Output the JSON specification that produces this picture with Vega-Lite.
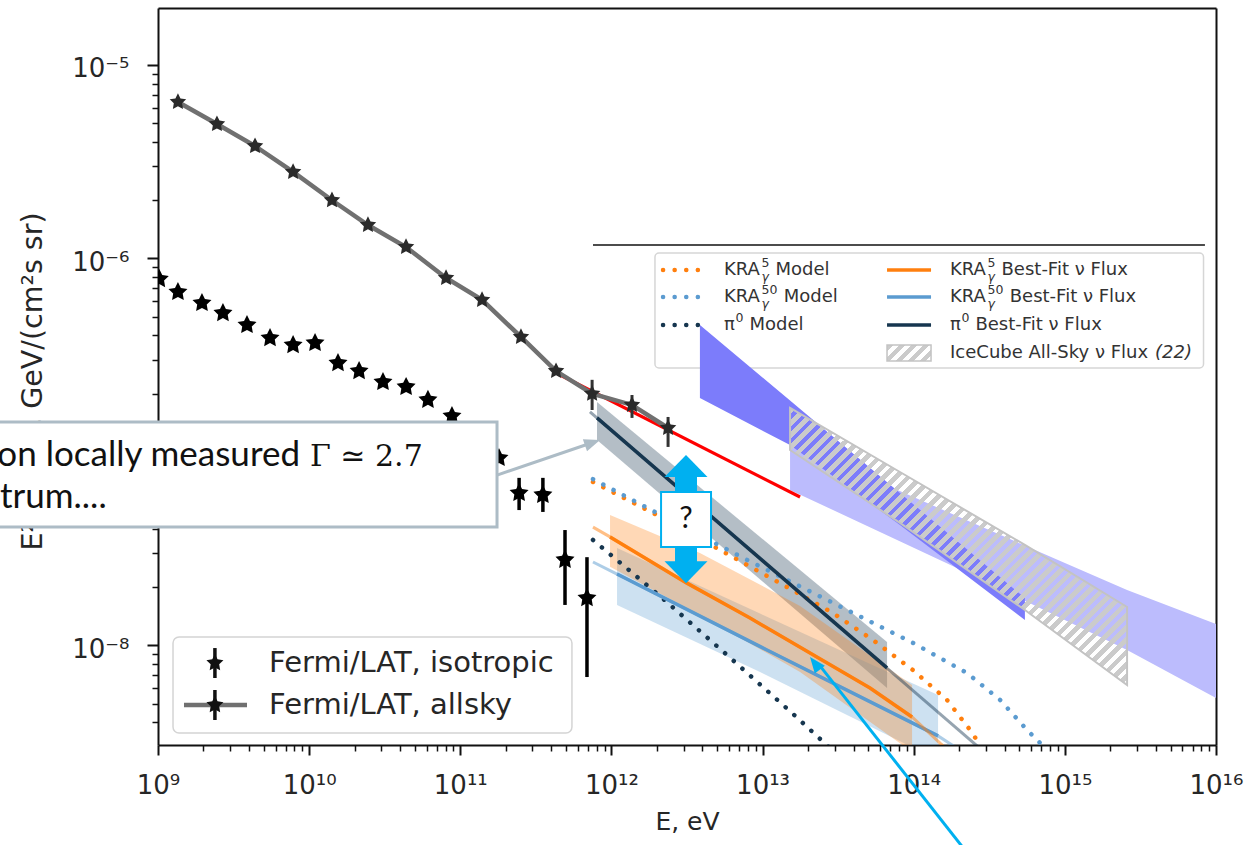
{
"$schema":"https://vega.github.io/schema/vega-lite/v6.json",
"width":1058,"height":737,
"autosize":"none",
"padding":{"left":158,"top":8,"right":36,"bottom":100},
"background":"white",
"config":{"view":{"stroke":null},"axis":{"grid":false}},
"datasets":{
"iso":[{"E":1.02e9,"F":7.83e-7},{"E":1.355e9,"F":6.71e-7},{"E":1.954e9,"F":5.89e-7},{"E":2.69e9,"F":5.22e-7},{"E":3.88e9,"F":4.53e-7},{"E":5.51e9,"F":3.88e-7},{"E":7.83e9,"F":3.57e-7},{"E":1.094e10,"F":3.66e-7},{"E":1.552e10,"F":2.88e-7},{"E":2.14e10,"F":2.62e-7},{"E":3.08e10,"F":2.30e-7},{"E":4.38e10,"F":2.17e-7},{"E":6.11e10,"F":1.86e-7},{"E":8.81e10,"F":1.535e-7},{"E":1.25e11,"F":1.197e-7},{"E":1.803e11,"F":9.31e-8},{"E":2.45e11,"F":6.14e-8,"lo":5.01e-8,"hi":7.35e-8},{"E":3.52e11,"F":6.0e-8,"lo":4.9e-8,"hi":7.35e-8},{"E":4.93e11,"F":2.77e-8,"lo":1.62e-8,"hi":3.95e-8},{"E":6.89e11,"F":1.758e-8,"lo":6.87e-9,"hi":2.86e-8}],
"allsky":[{"E":1.355e9,"F":6.44e-6},{"E":2.455e9,"F":4.95e-6},{"E":4.385e9,"F":3.81e-6},{"E":7.83e9,"F":2.80e-6},{"E":1.416e10,"F":2.0e-6},{"E":2.45e10,"F":1.489e-6},{"E":4.375e10,"F":1.146e-6},{"E":8.05e10,"F":7.93e-7},{"E":1.393e11,"F":6.11e-7},{"E":2.52e11,"F":3.93e-7},{"E":4.3e11,"F":2.62e-7},{"E":7.45e11,"F":2.0e-7,"lo":1.648e-7,"hi":2.36e-7},{"E":1.368e12,"F":1.75e-7,"lo":1.5e-7,"hi":1.97e-7},{"E":2.37e12,"F":1.33e-7,"lo":1.062e-7,"hi":1.517e-7}],
"red":[{"E":4.44e11,"F":2.53e-7},{"E":1.77e13,"F":5.85e-8}],
"pi0band":[{"E":8.03e11,"F":1.81e-7,"F2":1.153e-7},{"E":6.66e13,"F":1.042e-8,"F2":6.03e-9}],
"orband":[{"E":9.79e11,"F":4.72e-8,"F2":2.55e-8},{"E":3.85e12,"F":3.01e-8,"F2":1.439e-8},{"E":1.77e13,"F":1.6e-8,"F2":7.29e-9},{"E":9.75e13,"F":6.25e-9,"F2":2.82e-9}],
"blband":[{"E":1.089e12,"F":3.19e-8,"F2":1.62e-8},{"E":9.62e12,"F":1.462e-8,"F2":7.29e-9},{"E":1.449e14,"F":5.55e-9,"F2":2.56e-9}],
"pi0line":[{"E":8.03e11,"F":1.5e-7},{"E":6.66e13,"F":7.66e-9}],
"pi0ext":[{"E":7.21e11,"F":1.61e-7},{"E":3.2e14,"F":2.65e-9}],
"orline":[{"E":7.55e11,"F":4.09e-8},{"E":9.79e11,"F":3.64e-8},{"E":3.16e12,"F":2.1e-8},{"E":8.26e12,"F":1.387e-8},{"E":2.06e13,"F":9.14e-9},{"E":5.14e13,"F":6.03e-9},{"E":9.75e13,"F":4.27e-9},{"E":1.493e14,"F":3.13e-9},{"E":1.738e14,"F":2.82e-9}],
"blline":[{"E":7.55e11,"F":2.7e-8},{"E":1.089e12,"F":2.34e-8},{"E":1.069e13,"F":9.48e-9},{"E":1.449e14,"F":3.41e-9},{"E":2.02e14,"F":2.88e-9}],
"pi0mod":[{"E":7.55e11,"F":3.51e-8},{"E":2.09e12,"F":1.803e-8},{"E":5.82e12,"F":8.93e-9},{"E":1.59e13,"F":4.43e-9},{"E":2.79e13,"F":2.95e-9}],
"kra5mod":[{"E":7.55e11,"F":7.0e-8},{"E":2.0e12,"F":4.72e-8},{"E":5.22e12,"F":3.12e-8},{"E":1.303e13,"F":2.1e-8},{"E":2.92e13,"F":1.472e-8},{"E":5.38e13,"F":1.067e-8},{"E":9.89e13,"F":7.46e-9},{"E":1.66e14,"F":5.23e-9},{"E":2.36e14,"F":3.66e-9},{"E":2.75e14,"F":3.06e-9},{"E":3.1e14,"F":2.6e-9}],
"kra50mod":[{"E":7.55e11,"F":7.24e-8},{"E":2.0e12,"F":4.84e-8},{"E":7.89e12,"F":2.77e-8},{"E":2.16e13,"F":1.868e-8},{"E":4.62e13,"F":1.387e-8},{"E":9.89e13,"F":1.031e-8},{"E":2.25e14,"F":7.21e-9},{"E":3.73e14,"F":5.23e-9},{"E":5.62e14,"F":3.66e-9},{"E":7.07e14,"F":3.06e-9},{"E":8.6e14,"F":2.6e-9}],
"ice":[{"E":1.52e13,"F":1.688e-7,"F2":1.024e-7},{"E":8.11e13,"F":7.88e-8,"F2":4.3e-8},{"E":5.44e14,"F":3.31e-8,"F2":1.526e-8},{"E":2.58e15,"F":1.581e-8,"F2":6.25e-9}],
"pDark":[{"E":3.85e12,"F":4.53e-7,"F2":1.901e-7},{"E":1.52e13,"F":1.845e-7,"F2":1.086e-7},{"E":8.11e13,"F":6.14e-8,"F2":4.2e-8},{"E":5.44e14,"F":1.758e-8,"F2":1.355e-8}],
"pLight":[{"E":1.52e13,"F":1.114e-7,"F2":6.37e-8},{"E":1.738e14,"F":4.84e-8,"F2":2.61e-8},{"E":2.58e15,"F":1.936e-8,"F2":9.48e-9},{"E":1e16,"F":1.291e-8,"F2":5.36e-9}],
"trBox":[{"E":1.941e12,"E2":8.27e15,"F":1.067e-6,"F2":2.72e-7}],
"trDot":[{"E":2.194e12,"E2":3.915e12,"F":8.72e-7,"s":"KRA5"},{"E":2.194e12,"E2":3.915e12,"F":6.32e-7,"s":"KRA50"},{"E":2.194e12,"E2":3.915e12,"F":4.53e-7,"s":"pi0"}],
"trSolid":[{"E":6.66e13,"E2":1.302e14,"F":8.72e-7,"s":"KRA5"},{"E":6.66e13,"E2":1.302e14,"F":6.32e-7,"s":"KRA50"},{"E":6.66e13,"E2":1.302e14,"F":4.53e-7,"s":"pi0"}],
"trHatch":[{"E":6.66e13,"E2":1.302e14,"F":3.57e-7,"F2":2.95e-7}],
"trMain":[{"E":5.56e12,"F":8.72e-7,"t":"KRA"},{"E":1.218e13,"F":8.72e-7,"t":"Model"},{"E":5.56e12,"F":6.32e-7,"t":"KRA"},{"E":1.38e13,"F":6.32e-7,"t":"Model"},{"E":5.56e12,"F":4.53e-7,"t":"π"},{"E":8.2e12,"F":4.53e-7,"t":"Model"},{"E":1.739e14,"F":8.72e-7,"t":"KRA"},{"E":3.81e14,"F":8.72e-7,"t":"Best-Fit ν Flux"},{"E":1.739e14,"F":6.32e-7,"t":"KRA"},{"E":4.32e14,"F":6.32e-7,"t":"Best-Fit ν Flux"},{"E":1.739e14,"F":4.53e-7,"t":"π"},{"E":2.56e14,"F":4.53e-7,"t":"Best-Fit ν Flux"},{"E":1.739e14,"F":3.25e-7,"t":"IceCube All-Sky ν Flux"}],
"trItal":[{"E":3.95e15,"F":3.25e-7,"t":"(22)"}],
"trSup":[{"E":9.84e12,"F":8.72e-7,"t":"5"},{"E":9.84e12,"F":6.32e-7,"t":"50"},{"E":6.62e12,"F":4.53e-7,"t":"0"},{"E":3.08e14,"F":8.72e-7,"t":"5"},{"E":3.08e14,"F":6.32e-7,"t":"50"},{"E":2.07e14,"F":4.53e-7,"t":"0"}],
"trSub":[{"E":9.84e12,"F":8.72e-7,"t":"γ"},{"E":9.84e12,"F":6.32e-7,"t":"γ"},{"E":3.08e14,"F":8.72e-7,"t":"γ"},{"E":3.08e14,"F":6.32e-7,"t":"γ"}],
"llBox":[{"E":1.257e9,"E2":5.48e11,"F":1.107e-8,"F2":3.53e-9}],
"llLine":[{"E":1.486e9,"F":4.93e-9},{"E":3.88e9,"F":4.93e-9}],
"llErr":[{"E":2.38e9,"F":8.12e-9,"lo":6.79e-9,"hi":9.7e-9},{"E":2.38e9,"F":4.93e-9,"lo":4.12e-9,"hi":5.89e-9}],
"llText":[{"E":5.43e9,"F":8.12e-9,"t":"Fermi/LAT, isotropic"},{"E":5.43e9,"F":4.93e-9,"t":"Fermi/LAT, allsky"}],
"blackLine":[{"E":7.55e11,"E2":8.45e15,"F":1.175e-6}],
"annBox":[{"E":7e7,"E2":1.75e11,"F":1.429e-7,"F2":4.1e-8}],
"annArrow":[{"E":1.75e11,"F":7.6e-8,"E2":7.27e11,"F2":1.11e-7}],
"annTip":[{"E":8.41e11,"F":1.153e-7}],
"annText":[{"E":8.7e9,"F":8.47e-8,"t":"on locally measured"}],
"annText2":[{"E":9.01e7,"F":5.14e-8,"t":"trum...."}],
"annMath":[{"E":1.013e10,"F":8.47e-8,"t":"Γ ≃ 2.7"}],
"qShaft":[{"E":3.115e12,"F":8.07e-8,"F2":2.456e-8}],
"qUp":[{"E":3.115e12,"F":9.65e-8}],
"qDown":[{"E":3.115e12,"F":2.1e-8}],
"qBox":[{"E":2.13e12,"E2":4.56e12,"F":6.21e-8,"F2":3.23e-8}],
"qText":[{"E":3.115e12,"F":4.51e-8,"t":"?"}],
"cyanLine":[{"E":2.18e14,"F":8.77e-10,"E2":2.37e13,"F2":7.94e-9}],
"cyanTip":[{"E":2.06e13,"F":8.72e-9}]
},
"encoding":{
"x":{"field":"E","type":"quantitative","scale":{"type":"log","domain":[1e9,1e16],"nice":false},"axis":null},
"y":{"field":"F","type":"quantitative","scale":{"type":"log","domain":[3.06e-9,1.97e-5],"nice":false},"axis":null}
},
"resolve":{"axis":{"x":"independent","y":"independent"}},
"layer":[
{"data":{"name":"trBox"},"mark":{"type":"rect","fill":"white","stroke":"#d6d6d6","strokeWidth":1.5,"cornerRadius":4},"encoding":{"x2":{"field":"E2"},"y2":{"field":"F2"}}},
{"data":{"name":"pLight"},"mark":{"type":"area","color":"#bcbcfd","clip":true},"encoding":{"y2":{"field":"F2"}}},
{"data":{"name":"pDark"},"mark":{"type":"area","color":"#7c7cfb","clip":true},"encoding":{"y2":{"field":"F2"}}},
{"data":{"name":"ice"},"mark":{"type":"area","clip":true,"stroke":"#c3c3c3","strokeWidth":2,"fill":{"gradient":"linear","x1":0,"y1":0,"x2":1.087,"y2":0.894,"stops":[
{"offset":0,"color":"#cbcbcb"},{"offset":0.011,"color":"#cbcbcb"},{"offset":0.011,"color":"rgba(203,203,203,0)"},{"offset":0.02,"color":"rgba(203,203,203,0)"},
{"offset":0.02,"color":"#cbcbcb"},{"offset":0.031,"color":"#cbcbcb"},{"offset":0.031,"color":"rgba(203,203,203,0)"},{"offset":0.04,"color":"rgba(203,203,203,0)"},
{"offset":0.04,"color":"#cbcbcb"},{"offset":0.051,"color":"#cbcbcb"},{"offset":0.051,"color":"rgba(203,203,203,0)"},{"offset":0.06,"color":"rgba(203,203,203,0)"},
{"offset":0.06,"color":"#cbcbcb"},{"offset":0.071,"color":"#cbcbcb"},{"offset":0.071,"color":"rgba(203,203,203,0)"},{"offset":0.08,"color":"rgba(203,203,203,0)"},
{"offset":0.08,"color":"#cbcbcb"},{"offset":0.091,"color":"#cbcbcb"},{"offset":0.091,"color":"rgba(203,203,203,0)"},{"offset":0.1,"color":"rgba(203,203,203,0)"},
{"offset":0.1,"color":"#cbcbcb"},{"offset":0.111,"color":"#cbcbcb"},{"offset":0.111,"color":"rgba(203,203,203,0)"},{"offset":0.12,"color":"rgba(203,203,203,0)"},
{"offset":0.12,"color":"#cbcbcb"},{"offset":0.131,"color":"#cbcbcb"},{"offset":0.131,"color":"rgba(203,203,203,0)"},{"offset":0.14,"color":"rgba(203,203,203,0)"},
{"offset":0.14,"color":"#cbcbcb"},{"offset":0.151,"color":"#cbcbcb"},{"offset":0.151,"color":"rgba(203,203,203,0)"},{"offset":0.16,"color":"rgba(203,203,203,0)"},
{"offset":0.16,"color":"#cbcbcb"},{"offset":0.171,"color":"#cbcbcb"},{"offset":0.171,"color":"rgba(203,203,203,0)"},{"offset":0.18,"color":"rgba(203,203,203,0)"},
{"offset":0.18,"color":"#cbcbcb"},{"offset":0.191,"color":"#cbcbcb"},{"offset":0.191,"color":"rgba(203,203,203,0)"},{"offset":0.2,"color":"rgba(203,203,203,0)"},
{"offset":0.2,"color":"#cbcbcb"},{"offset":0.211,"color":"#cbcbcb"},{"offset":0.211,"color":"rgba(203,203,203,0)"},{"offset":0.22,"color":"rgba(203,203,203,0)"},
{"offset":0.22,"color":"#cbcbcb"},{"offset":0.231,"color":"#cbcbcb"},{"offset":0.231,"color":"rgba(203,203,203,0)"},{"offset":0.24,"color":"rgba(203,203,203,0)"},
{"offset":0.24,"color":"#cbcbcb"},{"offset":0.251,"color":"#cbcbcb"},{"offset":0.251,"color":"rgba(203,203,203,0)"},{"offset":0.26,"color":"rgba(203,203,203,0)"},
{"offset":0.26,"color":"#cbcbcb"},{"offset":0.271,"color":"#cbcbcb"},{"offset":0.271,"color":"rgba(203,203,203,0)"},{"offset":0.28,"color":"rgba(203,203,203,0)"},
{"offset":0.28,"color":"#cbcbcb"},{"offset":0.291,"color":"#cbcbcb"},{"offset":0.291,"color":"rgba(203,203,203,0)"},{"offset":0.3,"color":"rgba(203,203,203,0)"},
{"offset":0.3,"color":"#cbcbcb"},{"offset":0.311,"color":"#cbcbcb"},{"offset":0.311,"color":"rgba(203,203,203,0)"},{"offset":0.32,"color":"rgba(203,203,203,0)"},
{"offset":0.32,"color":"#cbcbcb"},{"offset":0.331,"color":"#cbcbcb"},{"offset":0.331,"color":"rgba(203,203,203,0)"},{"offset":0.34,"color":"rgba(203,203,203,0)"},
{"offset":0.34,"color":"#cbcbcb"},{"offset":0.351,"color":"#cbcbcb"},{"offset":0.351,"color":"rgba(203,203,203,0)"},{"offset":0.36,"color":"rgba(203,203,203,0)"},
{"offset":0.36,"color":"#cbcbcb"},{"offset":0.371,"color":"#cbcbcb"},{"offset":0.371,"color":"rgba(203,203,203,0)"},{"offset":0.38,"color":"rgba(203,203,203,0)"},
{"offset":0.38,"color":"#cbcbcb"},{"offset":0.391,"color":"#cbcbcb"},{"offset":0.391,"color":"rgba(203,203,203,0)"},{"offset":0.4,"color":"rgba(203,203,203,0)"},
{"offset":0.4,"color":"#cbcbcb"},{"offset":0.411,"color":"#cbcbcb"},{"offset":0.411,"color":"rgba(203,203,203,0)"},{"offset":0.42,"color":"rgba(203,203,203,0)"},
{"offset":0.42,"color":"#cbcbcb"},{"offset":0.431,"color":"#cbcbcb"},{"offset":0.431,"color":"rgba(203,203,203,0)"},{"offset":0.44,"color":"rgba(203,203,203,0)"},
{"offset":0.44,"color":"#cbcbcb"},{"offset":0.451,"color":"#cbcbcb"},{"offset":0.451,"color":"rgba(203,203,203,0)"},{"offset":0.46,"color":"rgba(203,203,203,0)"},
{"offset":0.46,"color":"#cbcbcb"},{"offset":0.471,"color":"#cbcbcb"},{"offset":0.471,"color":"rgba(203,203,203,0)"},{"offset":0.48,"color":"rgba(203,203,203,0)"},
{"offset":0.48,"color":"#cbcbcb"},{"offset":0.491,"color":"#cbcbcb"},{"offset":0.491,"color":"rgba(203,203,203,0)"},{"offset":0.5,"color":"rgba(203,203,203,0)"},
{"offset":0.5,"color":"#cbcbcb"},{"offset":0.511,"color":"#cbcbcb"},{"offset":0.511,"color":"rgba(203,203,203,0)"},{"offset":0.52,"color":"rgba(203,203,203,0)"},
{"offset":0.52,"color":"#cbcbcb"},{"offset":0.531,"color":"#cbcbcb"},{"offset":0.531,"color":"rgba(203,203,203,0)"},{"offset":0.54,"color":"rgba(203,203,203,0)"},
{"offset":0.54,"color":"#cbcbcb"},{"offset":0.551,"color":"#cbcbcb"},{"offset":0.551,"color":"rgba(203,203,203,0)"},{"offset":0.56,"color":"rgba(203,203,203,0)"},
{"offset":0.56,"color":"#cbcbcb"},{"offset":0.571,"color":"#cbcbcb"},{"offset":0.571,"color":"rgba(203,203,203,0)"},{"offset":0.58,"color":"rgba(203,203,203,0)"},
{"offset":0.58,"color":"#cbcbcb"},{"offset":0.591,"color":"#cbcbcb"},{"offset":0.591,"color":"rgba(203,203,203,0)"},{"offset":0.6,"color":"rgba(203,203,203,0)"},
{"offset":0.6,"color":"#cbcbcb"},{"offset":0.611,"color":"#cbcbcb"},{"offset":0.611,"color":"rgba(203,203,203,0)"},{"offset":0.62,"color":"rgba(203,203,203,0)"},
{"offset":0.62,"color":"#cbcbcb"},{"offset":0.631,"color":"#cbcbcb"},{"offset":0.631,"color":"rgba(203,203,203,0)"},{"offset":0.64,"color":"rgba(203,203,203,0)"},
{"offset":0.64,"color":"#cbcbcb"},{"offset":0.651,"color":"#cbcbcb"},{"offset":0.651,"color":"rgba(203,203,203,0)"},{"offset":0.66,"color":"rgba(203,203,203,0)"},
{"offset":0.66,"color":"#cbcbcb"},{"offset":0.671,"color":"#cbcbcb"},{"offset":0.671,"color":"rgba(203,203,203,0)"},{"offset":0.68,"color":"rgba(203,203,203,0)"},
{"offset":0.68,"color":"#cbcbcb"},{"offset":0.691,"color":"#cbcbcb"},{"offset":0.691,"color":"rgba(203,203,203,0)"},{"offset":0.7,"color":"rgba(203,203,203,0)"},
{"offset":0.7,"color":"#cbcbcb"},{"offset":0.711,"color":"#cbcbcb"},{"offset":0.711,"color":"rgba(203,203,203,0)"},{"offset":0.72,"color":"rgba(203,203,203,0)"},
{"offset":0.72,"color":"#cbcbcb"},{"offset":0.731,"color":"#cbcbcb"},{"offset":0.731,"color":"rgba(203,203,203,0)"},{"offset":0.74,"color":"rgba(203,203,203,0)"},
{"offset":0.74,"color":"#cbcbcb"},{"offset":0.751,"color":"#cbcbcb"},{"offset":0.751,"color":"rgba(203,203,203,0)"},{"offset":0.76,"color":"rgba(203,203,203,0)"},
{"offset":0.76,"color":"#cbcbcb"},{"offset":0.771,"color":"#cbcbcb"},{"offset":0.771,"color":"rgba(203,203,203,0)"},{"offset":0.78,"color":"rgba(203,203,203,0)"},
{"offset":0.78,"color":"#cbcbcb"},{"offset":0.791,"color":"#cbcbcb"},{"offset":0.791,"color":"rgba(203,203,203,0)"},{"offset":0.8,"color":"rgba(203,203,203,0)"},
{"offset":0.8,"color":"#cbcbcb"},{"offset":0.811,"color":"#cbcbcb"},{"offset":0.811,"color":"rgba(203,203,203,0)"},{"offset":0.82,"color":"rgba(203,203,203,0)"},
{"offset":0.82,"color":"#cbcbcb"},{"offset":0.831,"color":"#cbcbcb"},{"offset":0.831,"color":"rgba(203,203,203,0)"},{"offset":0.84,"color":"rgba(203,203,203,0)"},
{"offset":0.84,"color":"#cbcbcb"},{"offset":0.851,"color":"#cbcbcb"},{"offset":0.851,"color":"rgba(203,203,203,0)"},{"offset":0.86,"color":"rgba(203,203,203,0)"},
{"offset":0.86,"color":"#cbcbcb"},{"offset":0.871,"color":"#cbcbcb"},{"offset":0.871,"color":"rgba(203,203,203,0)"},{"offset":0.88,"color":"rgba(203,203,203,0)"},
{"offset":0.88,"color":"#cbcbcb"},{"offset":0.891,"color":"#cbcbcb"},{"offset":0.891,"color":"rgba(203,203,203,0)"},{"offset":0.9,"color":"rgba(203,203,203,0)"},
{"offset":0.9,"color":"#cbcbcb"},{"offset":0.911,"color":"#cbcbcb"},{"offset":0.911,"color":"rgba(203,203,203,0)"},{"offset":0.92,"color":"rgba(203,203,203,0)"},
{"offset":0.92,"color":"#cbcbcb"},{"offset":0.931,"color":"#cbcbcb"},{"offset":0.931,"color":"rgba(203,203,203,0)"},{"offset":0.94,"color":"rgba(203,203,203,0)"},
{"offset":0.94,"color":"#cbcbcb"},{"offset":0.951,"color":"#cbcbcb"},{"offset":0.951,"color":"rgba(203,203,203,0)"},{"offset":0.96,"color":"rgba(203,203,203,0)"},
{"offset":0.96,"color":"#cbcbcb"},{"offset":0.971,"color":"#cbcbcb"},{"offset":0.971,"color":"rgba(203,203,203,0)"},{"offset":0.98,"color":"rgba(203,203,203,0)"},
{"offset":0.98,"color":"#cbcbcb"},{"offset":0.991,"color":"#cbcbcb"},{"offset":0.991,"color":"rgba(203,203,203,0)"},{"offset":1,"color":"rgba(203,203,203,0)"}
]}},"encoding":{"y2":{"field":"F2"}}},
{"data":{"name":"pi0band"},"mark":{"type":"area","color":"#16364f","opacity":0.32,"clip":true},"encoding":{"y2":{"field":"F2"}}},
{"data":{"name":"blband"},"mark":{"type":"area","color":"#5b9bd0","opacity":0.3,"clip":true},"encoding":{"y2":{"field":"F2"}}},
{"data":{"name":"orband"},"mark":{"type":"area","color":"#ff7f0e","opacity":0.3,"clip":true},"encoding":{"y2":{"field":"F2"}}},
{"data":{"name":"pi0mod"},"mark":{"type":"line","color":"#16364f","strokeWidth":4.5,"strokeDash":[0.1,11.5],"strokeCap":"round","clip":true}},
{"data":{"name":"kra5mod"},"mark":{"type":"line","color":"#ff7f0e","strokeWidth":4.5,"strokeDash":[0.1,11.5],"strokeCap":"round","clip":true}},
{"data":{"name":"kra50mod"},"mark":{"type":"line","color":"#5b9bd0","strokeWidth":4.5,"strokeDash":[0.1,11.5],"strokeCap":"round","clip":true}},
{"data":{"name":"pi0ext"},"mark":{"type":"line","color":"#16364f","strokeWidth":3,"opacity":0.45,"clip":true}},
{"data":{"name":"blline"},"mark":{"type":"line","color":"#5b9bd0","strokeWidth":3,"opacity":0.5,"clip":true}},
{"data":{"name":"blline"},"transform":[{"filter":"datum.E>=1.08e12 && datum.E<=1.46e14"}],"mark":{"type":"line","color":"#5b9bd0","strokeWidth":3.5,"clip":true}},
{"data":{"name":"orline"},"mark":{"type":"line","color":"#ff7f0e","strokeWidth":3,"opacity":0.5,"clip":true}},
{"data":{"name":"orline"},"transform":[{"filter":"datum.E>=9.7e11 && datum.E<=9.8e13"}],"mark":{"type":"line","color":"#ff7f0e","strokeWidth":3.5,"clip":true}},
{"data":{"name":"pi0line"},"mark":{"type":"line","color":"#16364f","strokeWidth":3.5,"clip":true}},
{"data":{"name":"red"},"mark":{"type":"line","color":"#ff0000","strokeWidth":3.2,"clip":true},
 "encoding":{
 "x":{"field":"E","type":"quantitative","scale":{"type":"log","domain":[1e9,1e16],"nice":false},"axis":{"orient":"top","ticks":false,"labels":false,"domain":true,"domainColor":"#111111","domainWidth":2,"grid":false,"title":null}},
 "y":{"field":"F","type":"quantitative","scale":{"type":"log","domain":[3.06e-9,1.97e-5],"nice":false},"axis":{"orient":"right","ticks":false,"labels":false,"domain":true,"domainColor":"#111111","domainWidth":2,"grid":false,"title":null}}}},
{"data":{"name":"allsky"},"mark":{"type":"line","color":"#707070","strokeWidth":4.5,"clip":true},
 "encoding":{
 "x":{"field":"E","type":"quantitative","scale":{"type":"log","domain":[1e9,1e16],"nice":false},"axis":{"orient":"bottom","values":[1e9,1e10,1e11,1e12,1e13,1e14,1e15,1e16],"labelExpr":"['10⁹','10¹⁰','10¹¹','10¹²','10¹³','10¹⁴','10¹⁵','10¹⁶'][round(log(datum.value)/LN10)-9]","labelFont":"DejaVu Sans","labelFontSize":26,"labelColor":"#262626","labelPadding":17,"labelFlush":false,"labelOverlap":false,"labelBaseline":"top","tickSize":10,"tickWidth":2,"tickColor":"#111111","domainColor":"#111111","domainWidth":2,"grid":false,"title":"E, eV","titleFont":"DejaVu Sans","titleFontSize":25,"titleFontWeight":"normal","titleColor":"#262626","titleY":84,"titleBaseline":"alphabetic"}},
 "y":{"field":"F","type":"quantitative","scale":{"type":"log","domain":[3.06e-9,1.97e-5],"nice":false},"axis":{"orient":"left","values":[1e-8,1e-7,1e-6,1e-5],"labelExpr":"['10⁻⁸','','10⁻⁶','10⁻⁵'][round(log(datum.value)/LN10)+8]","labelFont":"DejaVu Sans","labelFontSize":26,"labelColor":"#262626","labelPadding":18,"labelOffset":4,"labelOverlap":false,"tickSize":11,"tickWidth":2,"tickColor":"#111111","domainColor":"#111111","domainWidth":2,"grid":false,"title":"E² dN/dE, GeV/(cm²s sr)","titleFont":"DejaVu Sans","titleFontSize":28.5,"titleFontWeight":"normal","titleColor":"#262626","titleAngle":270,"titleX":-117,"titleY":373,"titleAlign":"center","titleBaseline":"alphabetic"}}}},
{"data":{"name":"allsky"},"transform":[{"filter":"isValid(datum.lo)"}],"mark":{"type":"rule","color":"#333333","strokeWidth":3,"clip":true},
 "encoding":{"y":{"field":"lo","type":"quantitative","scale":{"type":"log","domain":[3.06e-9,1.97e-5],"nice":false},"axis":null},"y2":{"field":"hi"}}},
{"data":{"name":"allsky"},"mark":{"type":"point","shape":"M0,-1L0.294,-0.405L0.951,-0.309L0.476,0.155L0.588,0.809L0,0.5L-0.588,0.809L-0.476,0.155L-0.951,-0.309L-0.294,-0.405Z","filled":true,"size":300,"color":"#2a2a2a","opacity":1,"clip":true}},
{"data":{"name":"iso"},"transform":[{"filter":"isValid(datum.lo)"}],"mark":{"type":"rule","color":"#000000","strokeWidth":3.5,"clip":true},
 "encoding":{"y":{"field":"lo","type":"quantitative","scale":{"type":"log","domain":[3.06e-9,1.97e-5],"nice":false},"axis":null},"y2":{"field":"hi"}}},
{"data":{"name":"iso"},"mark":{"type":"point","shape":"M0,-1L0.294,-0.405L0.951,-0.309L0.476,0.155L0.588,0.809L0,0.5L-0.588,0.809L-0.476,0.155L-0.951,-0.309L-0.294,-0.405Z","filled":true,"size":400,"color":"#000000","opacity":1,"clip":true},
 "encoding":{
 "x":{"field":"E","type":"quantitative","scale":{"type":"log","domain":[1e9,1e16],"nice":false},"axis":{"orient":"bottom","values":[2e9,3e9,4e9,5e9,6e9,7e9,8e9,9e9,2e10,3e10,4e10,5e10,6e10,7e10,8e10,9e10,2e11,3e11,4e11,5e11,6e11,7e11,8e11,9e11,2e12,3e12,4e12,5e12,6e12,7e12,8e12,9e12,2e13,3e13,4e13,5e13,6e13,7e13,8e13,9e13,2e14,3e14,4e14,5e14,6e14,7e14,8e14,9e14,2e15,3e15,4e15,5e15,6e15,7e15,8e15,9e15],"labels":false,"tickSize":6,"tickWidth":1.5,"tickColor":"#111111","domain":false,"grid":false,"title":null}},
 "y":{"field":"F","type":"quantitative","scale":{"type":"log","domain":[3.06e-9,1.97e-5],"nice":false},"axis":{"orient":"left","values":[4e-9,5e-9,6e-9,7e-9,8e-9,9e-9,2e-8,3e-8,4e-8,5e-8,6e-8,7e-8,8e-8,9e-8,2e-7,3e-7,4e-7,5e-7,6e-7,7e-7,8e-7,9e-7,2e-6,3e-6,4e-6,5e-6,6e-6,7e-6,8e-6,9e-6],"labels":false,"tickSize":6,"tickWidth":1.5,"tickColor":"#111111","domain":false,"grid":false,"title":null}}}},
{"data":{"name":"llBox"},"mark":{"type":"rect","fill":"white","fillOpacity":0.85,"stroke":"#d4d4d4","strokeWidth":1.5,"cornerRadius":6},"encoding":{"x2":{"field":"E2"},"y2":{"field":"F2"}}},
{"data":{"name":"llLine"},"mark":{"type":"line","color":"#707070","strokeWidth":4.5}},
{"data":{"name":"llErr"},"mark":{"type":"rule","color":"#111111","strokeWidth":3.5},
 "encoding":{"y":{"field":"lo","type":"quantitative","scale":{"type":"log","domain":[3.06e-9,1.97e-5],"nice":false},"axis":null},"y2":{"field":"hi"}}},
{"data":{"name":"llErr"},"mark":{"type":"point","shape":"M0,-1L0.294,-0.405L0.951,-0.309L0.476,0.155L0.588,0.809L0,0.5L-0.588,0.809L-0.476,0.155L-0.951,-0.309L-0.294,-0.405Z","filled":true,"size":320,"color":"#111111","opacity":1}},
{"data":{"name":"llText"},"mark":{"type":"text","font":"DejaVu Sans","fontSize":29,"align":"left","baseline":"middle","color":"#262626"},"encoding":{"text":{"field":"t"}}},
{"data":{"name":"trDot"},"mark":{"type":"rule","strokeWidth":4.5,"strokeDash":[0.1,11.5],"strokeCap":"round"},"encoding":{"x2":{"field":"E2"},"color":{"field":"s","type":"nominal","scale":{"domain":["KRA5","KRA50","pi0"],"range":["#ff7f0e","#5b9bd0","#16364f"]},"legend":null}}},
{"data":{"name":"trSolid"},"mark":{"type":"rule","strokeWidth":3.5},"encoding":{"x2":{"field":"E2"},"color":{"field":"s","type":"nominal","scale":{"domain":["KRA5","KRA50","pi0"],"range":["#ff7f0e","#5b9bd0","#16364f"]},"legend":null}}},
{"data":{"name":"trHatch"},"mark":{"type":"rect","stroke":"#c3c3c3","strokeWidth":1.5,"fill":{"gradient":"linear","x1":0,"y1":0,"x2":1.2044,"y2":0.4384,"stops":[
{"offset":0,"color":"#cbcbcb"},{"offset":0.11,"color":"#cbcbcb"},{"offset":0.11,"color":"rgba(255,255,255,1)"},{"offset":0.2,"color":"rgba(255,255,255,1)"},
{"offset":0.2,"color":"#cbcbcb"},{"offset":0.31,"color":"#cbcbcb"},{"offset":0.31,"color":"rgba(255,255,255,1)"},{"offset":0.4,"color":"rgba(255,255,255,1)"},
{"offset":0.4,"color":"#cbcbcb"},{"offset":0.51,"color":"#cbcbcb"},{"offset":0.51,"color":"rgba(255,255,255,1)"},{"offset":0.6,"color":"rgba(255,255,255,1)"},
{"offset":0.6,"color":"#cbcbcb"},{"offset":0.71,"color":"#cbcbcb"},{"offset":0.71,"color":"rgba(255,255,255,1)"},{"offset":0.8,"color":"rgba(255,255,255,1)"},
{"offset":0.8,"color":"#cbcbcb"},{"offset":0.91,"color":"#cbcbcb"},{"offset":0.91,"color":"rgba(255,255,255,1)"},{"offset":1,"color":"rgba(255,255,255,1)"}]}},
 "encoding":{"x2":{"field":"E2"},"y2":{"field":"F2"}}},
{"data":{"name":"trMain"},"mark":{"type":"text","font":"DejaVu Sans","fontSize":18,"align":"left","baseline":"middle","color":"#333333"},"encoding":{"text":{"field":"t"}}},
{"data":{"name":"trItal"},"mark":{"type":"text","font":"DejaVu Sans","fontSize":18,"fontStyle":"italic","align":"left","baseline":"middle","color":"#333333"},"encoding":{"text":{"field":"t"}}},
{"data":{"name":"trSup"},"mark":{"type":"text","font":"DejaVu Sans","fontSize":12.5,"align":"left","baseline":"middle","dy":-7,"color":"#333333"},"encoding":{"text":{"field":"t"}}},
{"data":{"name":"trSub"},"mark":{"type":"text","font":"DejaVu Sans","fontSize":12.5,"fontStyle":"italic","align":"left","baseline":"middle","dy":7,"color":"#333333"},"encoding":{"text":{"field":"t"}}},
{"data":{"name":"blackLine"},"mark":{"type":"rule","color":"#111111","strokeWidth":1.5},"encoding":{"x2":{"field":"E2"}}},
{"data":{"name":"annBox"},"mark":{"type":"rect","fill":"white","stroke":"#adbcc6","strokeWidth":3},"encoding":{"x2":{"field":"E2"},"y2":{"field":"F2"}}},
{"data":{"name":"annArrow"},"mark":{"type":"rule","color":"#adbcc6","strokeWidth":3},"encoding":{"x2":{"field":"E2"},"y2":{"field":"F2"}}},
{"data":{"name":"annTip"},"mark":{"type":"point","shape":"M0,0L-2,-0.8L-2,0.8Z","filled":true,"size":256,"angle":-19,"color":"#adbcc6","opacity":1}},
{"data":{"name":"annText"},"mark":{"type":"text","font":"Lato","fontSize":35,"align":"right","baseline":"alphabetic","color":"#111111"},"encoding":{"text":{"field":"t"}}},
{"data":{"name":"annText2"},"mark":{"type":"text","font":"Lato","fontSize":35,"align":"left","baseline":"alphabetic","color":"#111111"},"encoding":{"text":{"field":"t"}}},
{"data":{"name":"annMath"},"mark":{"type":"text","font":"DejaVu Serif","fontSize":30,"align":"left","baseline":"alphabetic","color":"#111111"},"encoding":{"text":{"field":"t"}}},
{"data":{"name":"qShaft"},"mark":{"type":"rule","color":"#00b0f0","strokeWidth":22},"encoding":{"y2":{"field":"F2"}}},
{"data":{"name":"qUp"},"mark":{"type":"point","shape":"M0,0L1,1.02L-1,1.02Z","filled":true,"size":1849,"color":"#00b0f0","opacity":1}},
{"data":{"name":"qDown"},"mark":{"type":"point","shape":"M0,0L1,-1.02L-1,-1.02Z","filled":true,"size":1849,"color":"#00b0f0","opacity":1}},
{"data":{"name":"qBox"},"mark":{"type":"rect","fill":"white","stroke":"#00b0f0","strokeWidth":2},"encoding":{"x2":{"field":"E2"},"y2":{"field":"F2"}}},
{"data":{"name":"qText"},"mark":{"type":"text","font":"Lato","fontSize":30,"align":"center","baseline":"middle","color":"#111111"},"encoding":{"text":{"field":"t"}}},
{"data":{"name":"cyanLine"},"mark":{"type":"rule","color":"#00b0f0","strokeWidth":3},"encoding":{"x2":{"field":"E2"},"y2":{"field":"F2"}}},
{"data":{"name":"cyanTip"},"mark":{"type":"point","shape":"M0,0L-2,-0.8L-2,0.8Z","filled":true,"size":256,"angle":-128,"color":"#00b0f0","opacity":1}}
]
}
